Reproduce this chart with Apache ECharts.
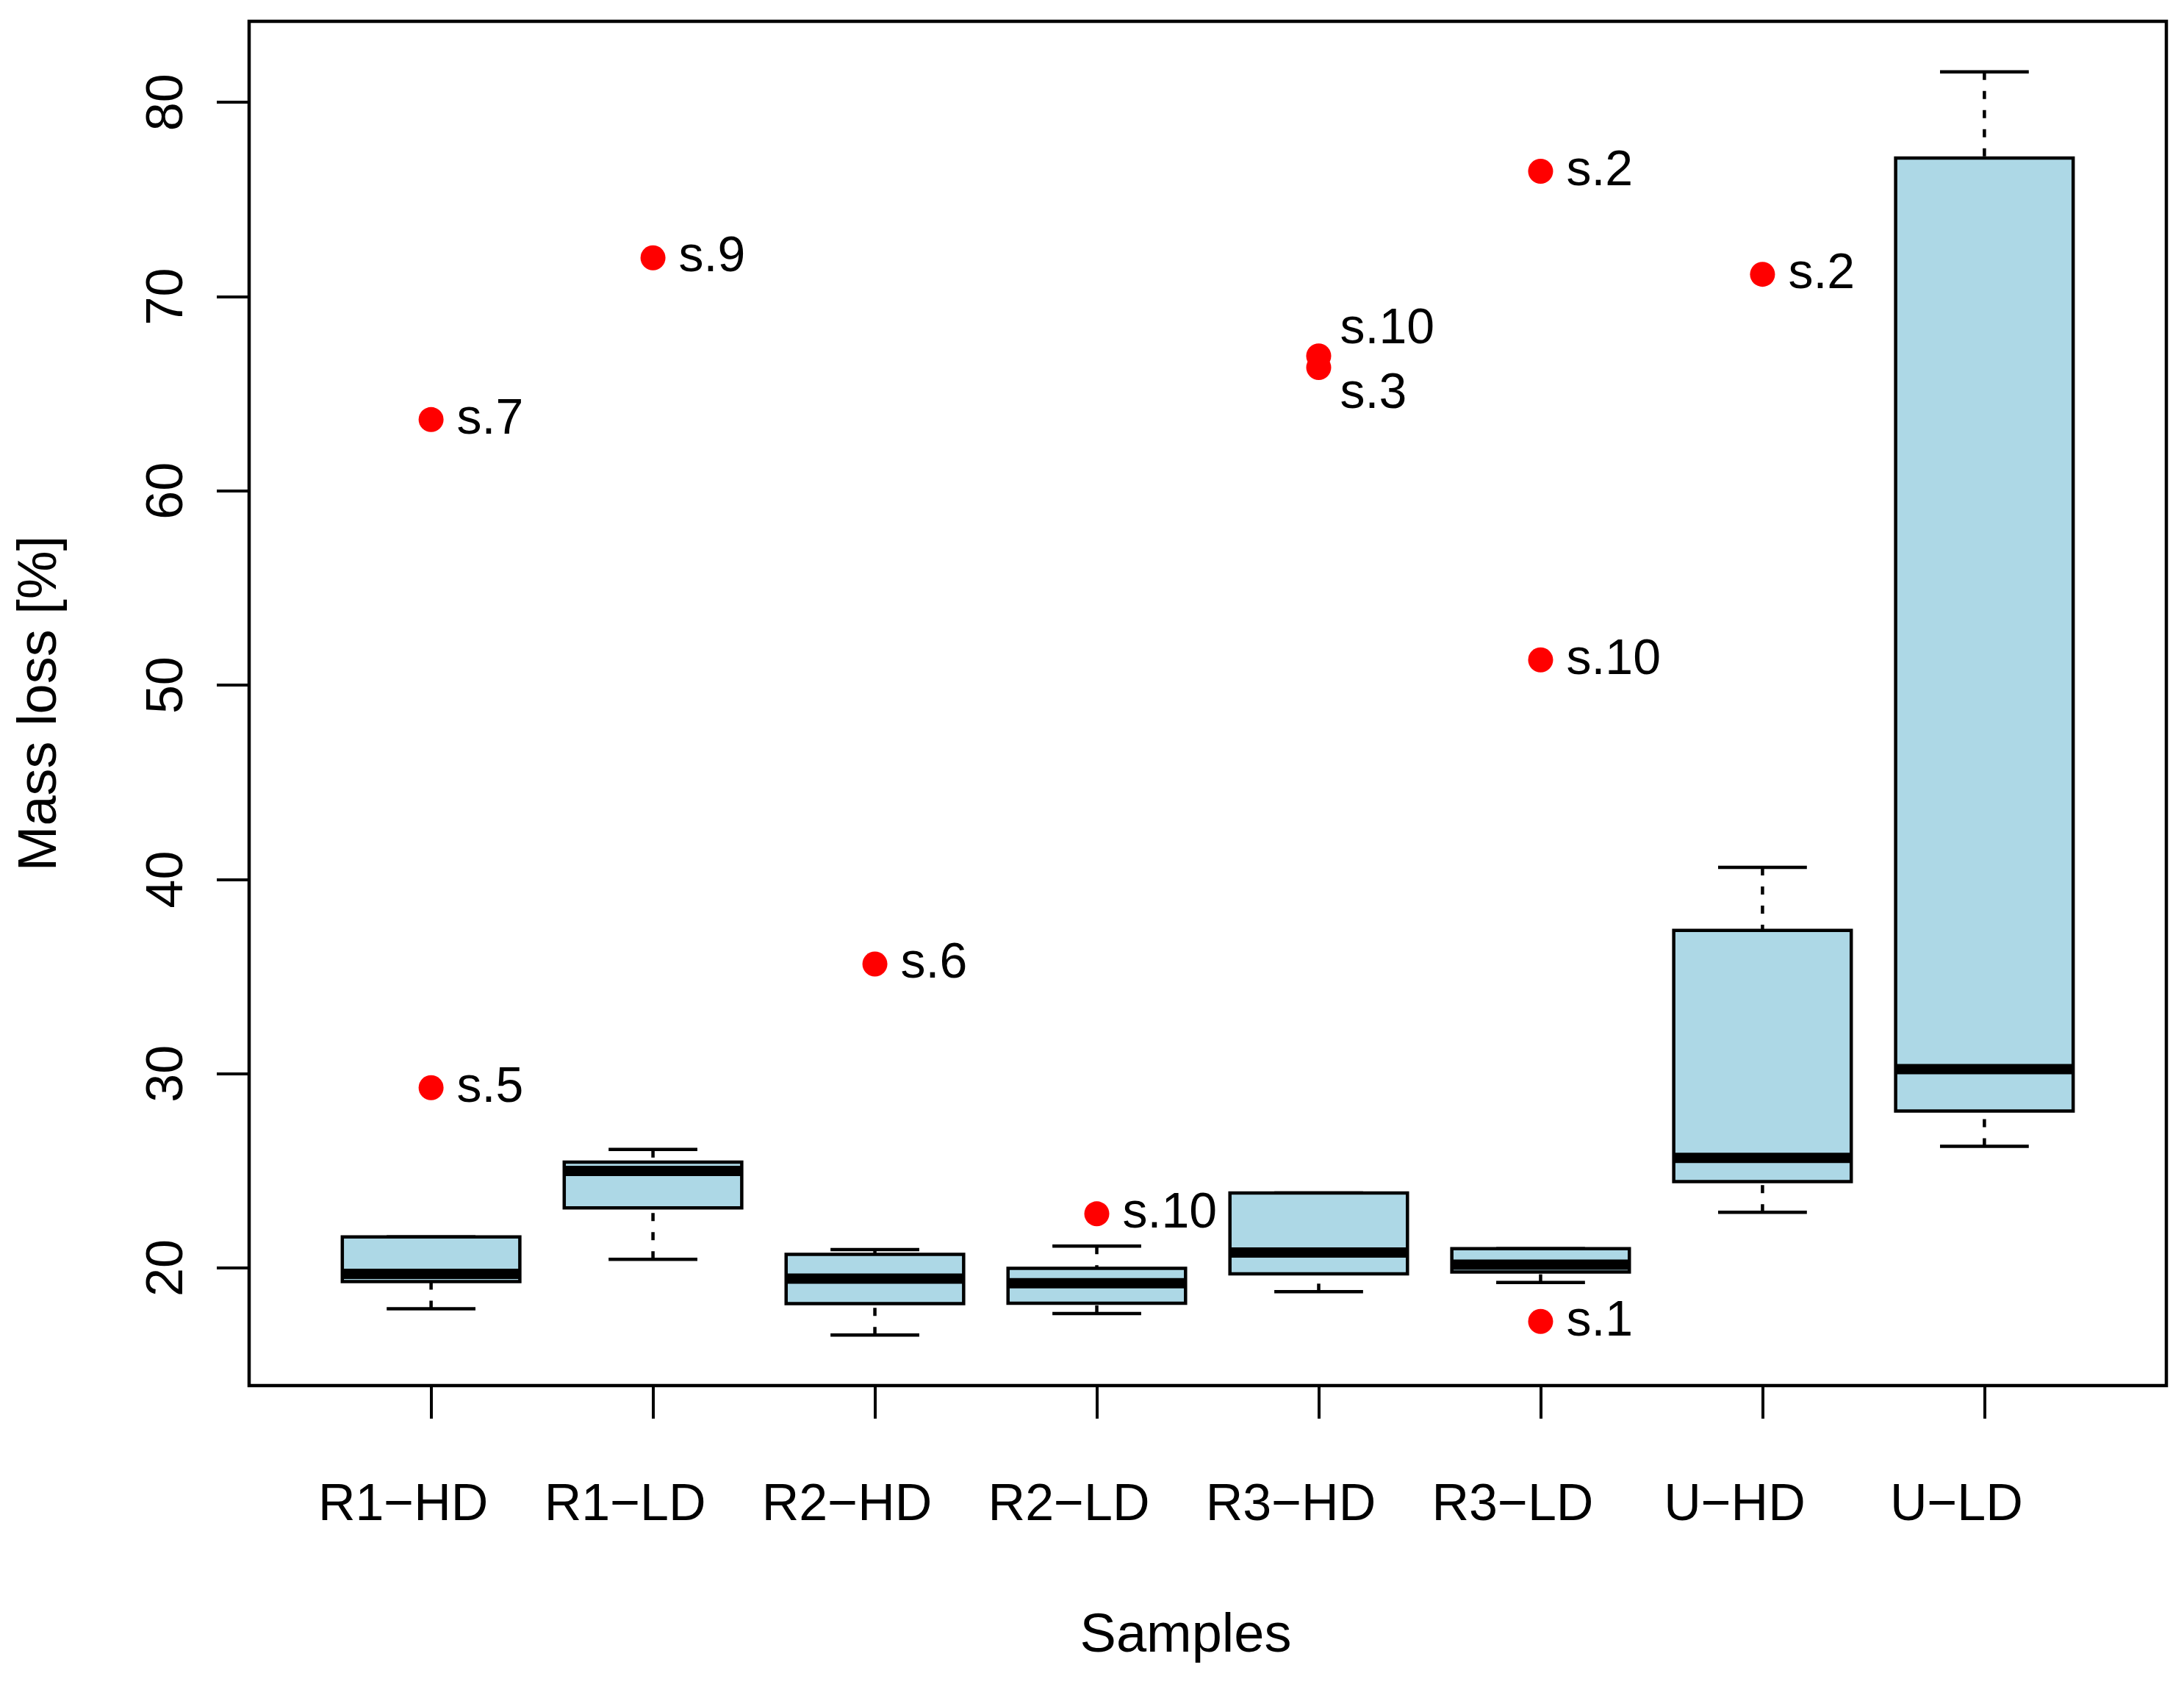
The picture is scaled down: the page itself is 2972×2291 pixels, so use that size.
<!DOCTYPE html>
<html>
<head>
<meta charset="utf-8">
<script src="https://cdn.jsdelivr.net/npm/echarts@6/dist/echarts.min.js"></script>
<style>
html,body{margin:0;padding:0;background:#fff;}
#chart{width:2972px;height:2291px;}
</style>
</head>
<body>
<div id="chart"></div>
<script>
// ---- data ----
var categories = ['R1\u2212HD','R1\u2212LD','R2\u2212HD','R2\u2212LD','R3\u2212HD','R3\u2212LD','U\u2212HD','U\u2212LD'];
// five-number summaries: [lower whisker, Q1, median, Q3, upper whisker]
var boxStats = [
  [17.9, 19.3, 19.7, 21.6, 21.6],
  [20.45, 23.1, 25.0, 25.45, 26.1],
  [16.55, 18.17, 19.45, 20.7, 20.95],
  [17.66, 18.19, 19.22, 19.98, 21.13],
  [18.78, 19.7, 20.8, 23.86, 23.86],
  [19.26, 19.79, 20.17, 21.0, 21.0],
  [22.87, 24.45, 25.67, 37.38, 40.62],
  [26.26, 28.08, 30.24, 77.13, 81.57]
];
var outlierCat = [0, 0, 1, 2, 3, 4, 4, 5, 5, 5, 6];
var outlierVal = [63.67, 29.28, 72.0, 35.65, 22.79, 66.95, 66.35, 76.45, 51.3, 17.25, 71.15];
var outlierLab = ['s.7','s.5','s.9','s.6','s.10','s.10','s.3','s.2','s.10','s.1','s.2'];
var yTicks = [20, 30, 40, 50, 60, 70, 80];

// ---- layout helpers (not data) ----
var FONT = "'Liberation Sans', Arial, Helvetica, sans-serif";
var labelNudge = {5: [-6, -36], 6: [-6, 36]};

var allVals = [];
boxStats.forEach(function(s){ allVals.push(s[0], s[4]); });
outlierVal.forEach(function(v){ allVals.push(v); });
var dMin = Math.min.apply(null, allVals), dMax = Math.max.apply(null, allVals);
var pad = (dMax - dMin) * 0.04;
var yMin = dMin - pad, yMax = dMax + pad;
var xMin = -0.5 - 8 * 0.04, xMax = 7.5 + 8 * 0.04;

var boxData = boxStats.map(function(s, i){ return [i].concat(s); });
var ptData = outlierVal.map(function(v, k){
  var item = {value: [outlierCat[k], v]};
  if (labelNudge[k]) item.label = {offset: labelNudge[k]};
  return item;
});
var catIdx = categories.map(function(c, i){ return i; });

var LW = 4.5;
var chart = echarts.init(document.getElementById('chart'), null, {renderer: 'canvas'});
chart.setOption({
  backgroundColor: '#ffffff',
  animation: false,
  grid: {left: 339, right: 24, top: 29, bottom: 406, show: true, borderColor: '#000', borderWidth: LW, backgroundColor: 'transparent'},
  xAxis: {
    type: 'value', min: xMin, max: xMax,
    name: 'Samples', nameLocation: 'middle', nameGap: 305,
    nameTextStyle: {fontSize: 74, color: '#000', fontFamily: FONT, padding: [0, 60, 0, 0]},
    axisLine: {show: false, onZero: false},
    splitLine: {show: false},
    axisTick: {show: true, length: 45, lineStyle: {color: '#000', width: 4}, customValues: catIdx},
    axisLabel: {
      show: true, margin: 129, customValues: catIdx,
      formatter: function(v){ return '{a|' + categories[Math.round(v)] + '}'; },
      rich: {a: {fontSize: 70, color: '#000', fontFamily: FONT, padding: [0, 76, 0, 0]}}
    }
  },
  yAxis: {
    type: 'value', min: yMin, max: yMax,
    name: 'Mass loss [%]', nameLocation: 'middle', nameGap: 246, nameRotate: 90,
    nameTextStyle: {fontSize: 74, color: '#000', fontFamily: FONT},
    axisLine: {show: false, onZero: false},
    splitLine: {show: false},
    axisTick: {show: true, length: 44, lineStyle: {color: '#000', width: 4}, customValues: yTicks},
    axisLabel: {show: true, rotate: 90, margin: 75, customValues: yTicks, fontSize: 70, color: '#000', fontFamily: FONT}
  },
  series: [
    {
      type: 'custom',
      data: boxData,
      encode: {x: 0, y: [1, 2, 3, 4, 5]},
      renderItem: function(params, api){
        var i = api.value(0);
        var mn = api.value(1), q1 = api.value(2), md = api.value(3), q3 = api.value(4), mx = api.value(5);
        var tl = api.coord([i - 0.4, q3]);
        var br = api.coord([i + 0.4, q1]);
        var dash = [11, 15];
        var children = [];
        function line(x1, y1, x2, y2, w, d){
          var a = api.coord([x1, y1]), b = api.coord([x2, y2]);
          children.push({type: 'line', shape: {x1: a[0], y1: a[1], x2: b[0], y2: b[1]},
            style: {stroke: '#000', lineWidth: w, lineDash: d || null, lineCap: 'butt'}});
        }
        if (mx > q3) { line(i, mx, i, q3, LW, dash); }
        if (mn < q1) { line(i, mn, i, q1, LW, dash); }
        line(i - 0.2, mx, i + 0.2, mx, LW);
        line(i - 0.2, mn, i + 0.2, mn, LW);
        children.push({type: 'rect', shape: {x: tl[0], y: tl[1], width: br[0] - tl[0], height: br[1] - tl[1]},
          style: {fill: '#ADD8E6', stroke: '#000', lineWidth: LW}});
        line(i - 0.4, md, i + 0.4, md, 14);
        return {type: 'group', children: children};
      },
      z: 2
    },
    {
      type: 'scatter',
      data: ptData,
      symbol: 'circle',
      symbolSize: 34,
      itemStyle: {color: '#FF0000', opacity: 1},
      label: {
        show: true, position: 'right', distance: 18,
        formatter: function(p){ return outlierLab[p.dataIndex]; },
        fontSize: 68, color: '#000', fontFamily: FONT
      },
      z: 3
    }
  ]
});
</script>
</body>
</html>
